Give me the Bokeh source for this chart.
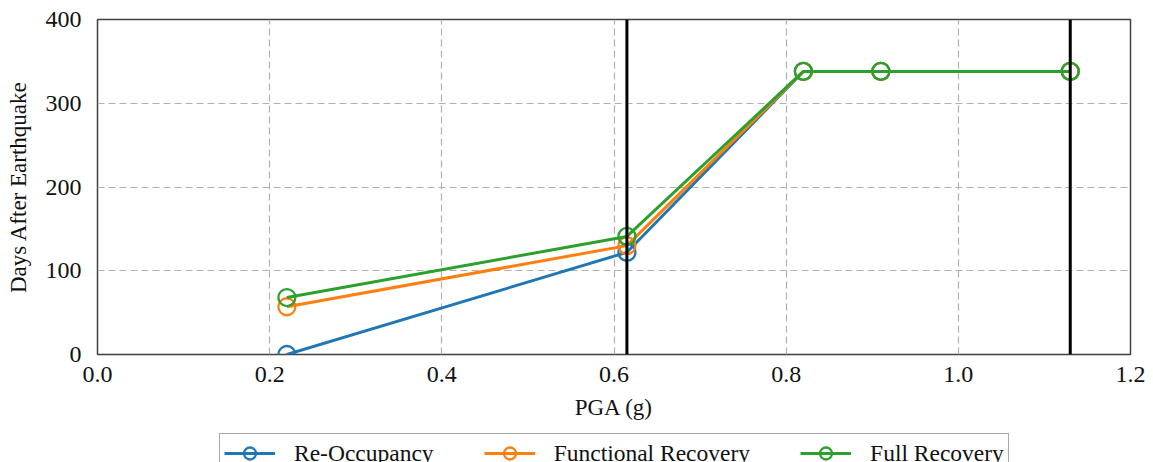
from bokeh.plotting import figure
from bokeh.layouts import column
from bokeh.models import (Span, Legend, LegendItem, FixedTicker,
                          CustomJSTickFormatter, Range1d)
from bokeh.embed import file_html
from bokeh.resources import INLINE

# Recovery time vs. ground-motion intensity
pga = [0.22, 0.615, 0.82, 0.91, 1.13]
re_occupancy = [0, 122, 338, 338, 338]
functional_recovery = [57, 130, 338, 338, 338]
full_recovery = [68, 141, 338, 338, 338]
marker_lines = [0.615, 1.13]
x_ticks = [0.0, 0.2, 0.4, 0.6, 0.8, 1.0, 1.2]
y_ticks = [0, 100, 200, 300, 400]

series = [
    ("Re-Occupancy", re_occupancy, "#1f77b4"),
    ("Functional Recovery", functional_recovery, "#ff7f0e"),
    ("Full Recovery", full_recovery, "#2ca02c"),
]

FONT = "Liberation Serif"

# ---- main chart ----
p = figure(
    width=1153, height=432,
    x_range=(0, 1.2), y_range=(0, 400),
    output_backend="svg", toolbar_location=None,
    min_border_left=97, min_border_right=23,
    min_border_top=19, min_border_bottom=78,
)
p.background_fill_color = "white"
p.border_fill_color = "white"
p.outline_line_color = "#404040"
p.outline_line_width = 1.5

p.xaxis.ticker = FixedTicker(ticks=x_ticks)
p.yaxis.ticker = FixedTicker(ticks=y_ticks)
p.xaxis.formatter = CustomJSTickFormatter(code="return tick.toFixed(1);")

for ax in (p.xaxis[0], p.yaxis[0]):
    ax.axis_line_color = None
    ax.major_tick_line_color = None
    ax.minor_tick_line_color = None
    ax.major_label_text_font = FONT
    ax.major_label_text_font_size = "24px"
    ax.major_label_text_color = "#111111"
    ax.axis_label_text_font = FONT
    ax.axis_label_text_font_size = "23px"
    ax.axis_label_text_font_style = "normal"
    ax.axis_label_text_color = "#111111"

p.xaxis.axis_label = "PGA (g)"
p.yaxis.axis_label = "Days After Earthquake"
p.xaxis.major_label_standoff = 6
p.yaxis.major_label_standoff = 10
p.xaxis.axis_label_standoff = 10
p.yaxis.axis_label_standoff = 12

for g in (p.xgrid[0], p.ygrid[0]):
    g.grid_line_color = "#b0b0b0"
    g.grid_line_dash = "7 4"
    g.grid_line_width = 1.2

for label, vals, color in series:
    p.line(pga, vals, line_color=color, line_width=3)
    p.scatter(pga, vals, marker="circle", size=17, fill_color=None,
              line_color=color, line_width=2.3)

for xv in marker_lines:
    p.add_layout(Span(location=xv, dimension="height", line_color="black",
                      line_width=3))

# ---- legend strip under the chart ----
# The strip's y range sits above all data, so its renderers only feed the legend.
leg = figure(
    width=1153, height=30,
    x_range=Range1d(0, 1.2), y_range=Range1d(500, 600),
    x_axis_location=None, y_axis_location=None,
    output_backend="svg", toolbar_location=None,
    min_border_left=97, min_border_right=23,
    min_border_top=0, min_border_bottom=0,
)
leg.outline_line_color = None
leg.grid.visible = False
leg.background_fill_color = "white"
leg.border_fill_color = "white"

items = []
for label, vals, color in series:
    ln = leg.line(pga, vals, line_color=color, line_width=3)
    sc = leg.scatter(pga, vals, marker="circle", size=12, fill_color=None,
                     line_color=color, line_width=2.3)
    items.append(LegendItem(label=label, renderers=[ln, sc]))

legend = Legend(
    items=items, orientation="horizontal",
    location=(122, -11),
    label_text_font=FONT, label_text_font_size="23.5px",
    label_text_color="#111111",
    glyph_width=51, glyph_height=30,
    label_standoff=19, spacing=50,
    padding=4, margin=0,
    border_line_color="#555555", border_line_width=1.5,
    background_fill_color="white", background_fill_alpha=1.0,
)
leg.add_layout(legend, "center")

open("out.html", "w").write(file_html(column(p, leg, spacing=0), INLINE))
